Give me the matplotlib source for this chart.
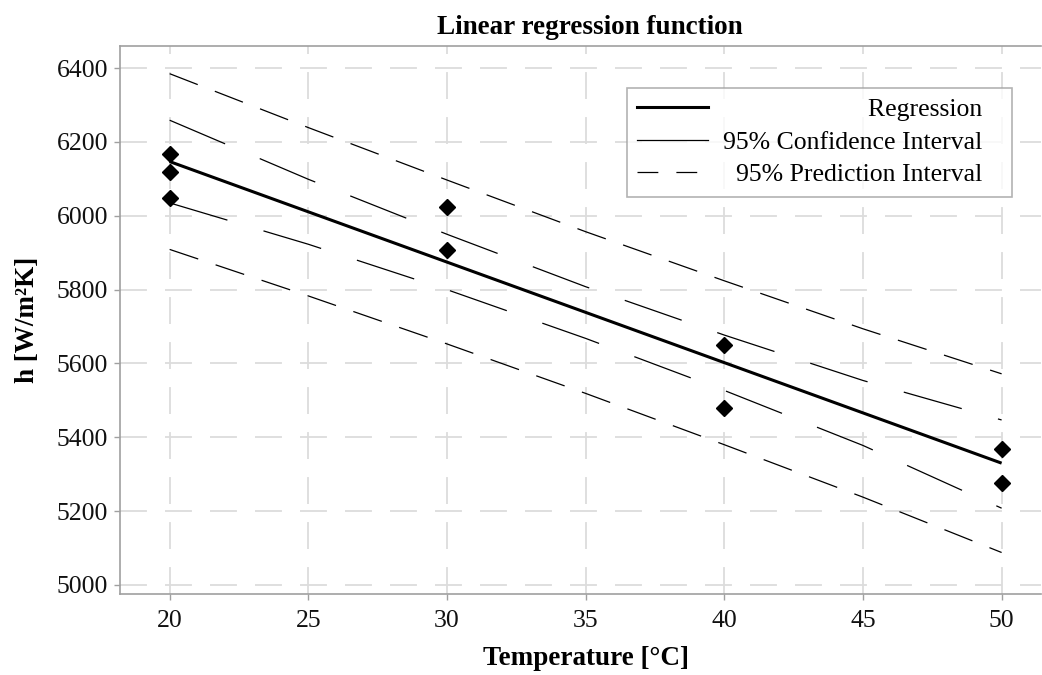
import matplotlib
matplotlib.use('Agg')
import matplotlib.pyplot as plt
from matplotlib.lines import Line2D

# data
temp_points = [20, 20, 20, 30, 30, 40, 40, 50, 50]
h_points = [6168, 6120, 6049, 6025, 5908, 5650, 5480, 5368, 5275]

reg_x = [20, 50]
reg_y = [6147, 5330]

band_x = [20, 25, 30, 35, 40, 45, 50]
ci_upper = [6259, 6099, 5950, 5808, 5677, 5554, 5447]
ci_lower = [6035, 5923, 5800, 5668, 5527, 5378, 5208]
pi_upper = [6385, 6239, 6097, 5957, 5824, 5694, 5572]
pi_lower = [5909, 5783, 5653, 5519, 5380, 5238, 5088]

x_ticks = [20, 25, 30, 35, 40, 45, 50]
y_ticks = [5000, 5200, 5400, 5600, 5800, 6000, 6200, 6400]

plt.rcParams['font.family'] = ['Liberation Serif', 'DejaVu Serif']
plt.rcParams['lines.scale_dashes'] = False

fig = plt.figure(figsize=(10.42, 6.75), dpi=100)
ax = fig.add_axes([120 / 1042, 81 / 675, 921 / 1042, 548 / 675])

ci_style = (0, (43.4, 27.1))
pi_style = (0, (21.7, 13.2))

ax.plot(reg_x, reg_y, color='black', linewidth=2.2, solid_capstyle='butt')
ax.plot(band_x, ci_upper, color='black', linewidth=0.9, linestyle=ci_style)
ax.plot(band_x, ci_lower, color='black', linewidth=0.9, linestyle=ci_style)
ax.plot(band_x, pi_upper, color='black', linewidth=0.9, linestyle=pi_style)
ax.plot(band_x, pi_lower, color='black', linewidth=0.9, linestyle=pi_style)
ax.plot(temp_points, h_points, linestyle='none', marker='D', markersize=8.5,
        color='black')

ax.set_xlim(18.21, 51.42)
ax.set_ylim(4975.6, 6460)
ax.set_xticks(x_ticks)
ax.set_yticks(y_ticks)

ax.grid(True, color='#dcdcdc', linewidth=1.3, linestyle=(0, (19.4, 13.0)))
ax.set_axisbelow(True)

for s in ax.spines.values():
    s.set_color('#a0a0a0')
    s.set_linewidth(1.2)
ax.spines['right'].set_visible(False)

ax.tick_params(axis='both', direction='out', length=4.5, width=1,
               color='#a0a0a0', labelsize=18.5, labelcolor='#111111')
ax.tick_params(axis='x', pad=7)
ax.tick_params(axis='y', pad=4)

ax.set_title('Linear regression function', fontsize=19.5, fontweight='bold',
             x=0.51, pad=9)
ax.set_xlabel('Temperature [°C]', fontsize=19.5, fontweight='bold')
ax.set_ylabel('h [W/m²K]', fontsize=19.5, fontweight='bold')
ax.xaxis.set_label_coords(0.506, -0.094)
ax.yaxis.set_label_coords(-0.087, 0.5)

handles = [
    Line2D([], [], color='black', linewidth=2.2),
    Line2D([], [], color='black', linewidth=0.9),
    Line2D([], [], color='black', linewidth=0.9, linestyle=(0, (15, 13))),
]
labels = ['Regression   ', '95% Confidence Interval   ', '95% Prediction Interval   ']
leg = ax.legend(handles, labels, loc='upper right', bbox_to_anchor=(0.9685, 0.923),
                borderaxespad=0, fontsize=18.5, frameon=True, fancybox=False,
                handlelength=2.75, labelspacing=0.37, borderpad=0.4,
                handletextpad=0.6)
leg.get_frame().set_edgecolor('#a0a0a0')
leg.get_frame().set_linewidth(1.2)

# right-align legend labels
fig.canvas.draw()
widths = [t.get_window_extent().width for t in leg.get_texts()]
for t, w in zip(leg.get_texts(), widths):
    t.set_position((max(widths) - w, 0))

fig.savefig('out.png', dpi=100)
